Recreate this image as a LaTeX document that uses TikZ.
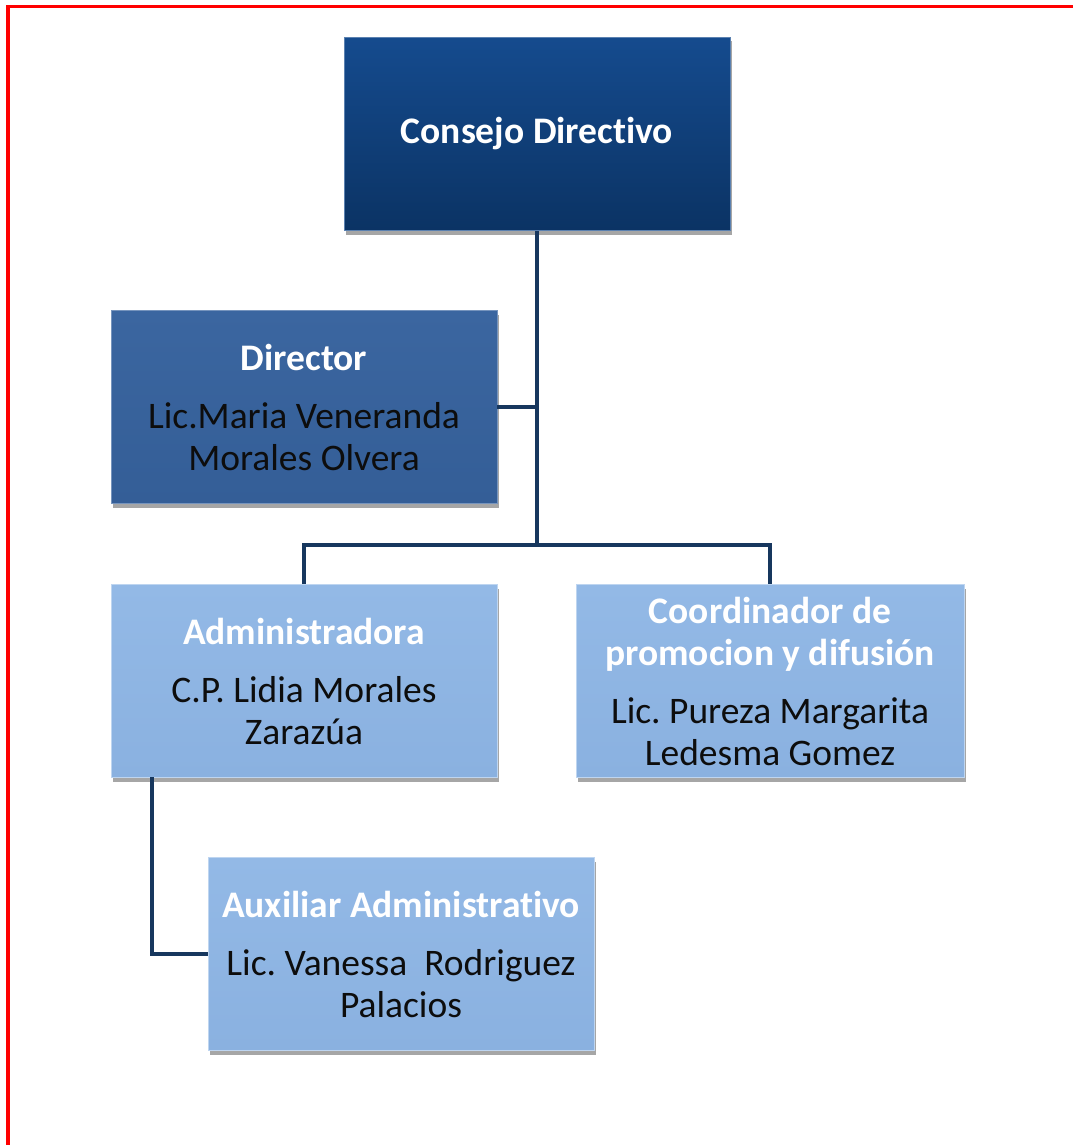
\documentclass[tikz,border=0pt]{standalone}
\usepackage{fontspec}
\setmainfont{Carlito}[Ligatures=NoCommon]
\frenchspacing
\usetikzlibrary{shadows}
\definecolor{navytop}{HTML}{154B8E}
\definecolor{navybot}{HTML}{0B3364}
\definecolor{midtop}{HTML}{3B66A0}
\definecolor{midbot}{HTML}{345E97}
\definecolor{lighttop}{HTML}{93B9E6}
\definecolor{lightbot}{HTML}{8AB1E0}
\definecolor{linec}{HTML}{17375E}
\definecolor{nametext}{HTML}{0D0D0D}
\tikzset{
  box/.style={minimum width=386pt, minimum height=193pt, inner sep=0pt, align=center,
    font=\fontsize{37.5}{42}\selectfont, text=nametext,
    drop shadow={shadow xshift=2pt, shadow yshift=-4pt, opacity=0.35, fill=black}},
  navybox/.style={box, top color=navytop, bottom color=navybot, draw=navytop!70!white, line width=0.8pt},
  midbox/.style={box, top color=midtop, bottom color=midbot, draw=midtop!70!white, line width=0.8pt},
  lightbox/.style={box, top color=lighttop, bottom color=lightbot, draw=lighttop!60!white, line width=0.8pt},
  conn/.style={draw=linec, line width=3.5pt}
}
\newcommand{\ttlw}[1]{{\bfseries\color{white}#1}}
\begin{document}
\begin{tikzpicture}[x=1pt,y=-1pt]
\useasboundingbox (0,0) rectangle (1072,1145);
\fill[white] (0,0) rectangle (1072,1145);
\draw[red, line width=3.5pt] (8,1150) -- (8,6.5) -- (1080,6.5);

\node[navybox] (cd) at (537,134) {\ttlw{Consejo Directivo}};
\node[midbox] (dir) at (304,407) {\ttlw{Director}\\[16pt]Lic.Maria Veneranda\\Morales Olvera};
\node[lightbox] (adm) at (304,681) {\ttlw{Administradora}\\[16pt]C.P. Lidia Morales\\Zarazúa};
\node[lightbox, minimum width=388pt] (coo) at (770,681) {\ttlw{Coordinador de}\\\ttlw{promocion y difusión}\\[16pt]Lic. Pureza Margarita\\Ledesma Gomez};
\node[lightbox] (aux) at (401,954) {\ttlw{Auxiliar Administrativo}\\[16pt]Lic. Vanessa\ \ Rodriguez\\Palacios};

\coordinate (j1) at (537,545);
\coordinate (a1) at (152,777);
\draw[conn] (cd.south) -- (j1);
\draw[conn] (dir.east) -- (dir.east -| cd.south);
\draw[conn] (adm.north) |- (j1) -| (coo.north);
\draw[conn] (a1) |- (aux.west);
\end{tikzpicture}
\end{document}
